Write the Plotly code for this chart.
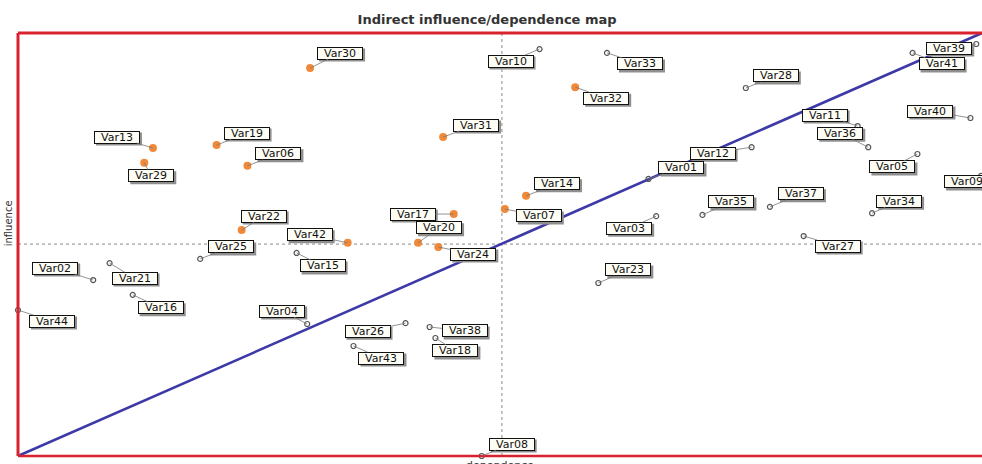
import plotly.graph_objects as go

# ---------------- data ----------------
variables = ["Var30", "Var13", "Var29", "Var19", "Var06", "Var22", "Var42", "Var31",
             "Var32", "Var14", "Var07", "Var17", "Var20", "Var24",
             "Var10", "Var33", "Var39", "Var41", "Var28", "Var11", "Var36", "Var40",
             "Var12", "Var01", "Var05", "Var09", "Var35", "Var37", "Var34", "Var03",
             "Var27", "Var25", "Var15", "Var02", "Var21", "Var16", "Var44", "Var04",
             "Var23", "Var26", "Var38", "Var18", "Var43", "Var08"]
dependence = [30.3, 14.0, 13.1, 20.6, 23.8, 23.2, 34.2, 44.1,
              57.8, 52.7, 50.5, 45.2, 41.5, 43.6,
              54.1, 61.1, 99.4, 92.8, 75.5, 87.1, 88.2, 98.8,
              76.1, 65.4, 93.3, 99.9, 71.0, 78.0, 88.6, 66.2,
              81.5, 18.9, 28.9, 7.8, 9.5, 11.9, 0.0, 30.0,
              60.2, 40.2, 42.7, 43.3, 34.8, 48.1]
influence = [91.7, 72.8, 69.3, 73.5, 68.6, 53.4, 50.4, 75.4,
             87.2, 61.5, 58.4, 57.2, 50.4, 49.4,
             96.2, 95.3, 97.4, 95.3, 87.0, 78.0, 73.0, 79.9,
             73.0, 65.5, 71.4, 66.2, 57.0, 58.9, 57.4, 56.7,
             52.0, 46.6, 48.0, 41.6, 45.6, 38.1, 34.5, 31.2,
             40.9, 31.4, 30.5, 27.9, 26.0, 0.0]
highlighted = ["Var30", "Var13", "Var29", "Var19", "Var06", "Var22", "Var42", "Var31",
               "Var32", "Var14", "Var07", "Var17", "Var20", "Var24"]
mean_dependence = 50.2
mean_influence = 50.1

# label placement (pixel offsets of the label box centre from its point)
label_offsets = {
    "Var30": (30, -15), "Var13": (-36, -11), "Var29": (7, 13), "Var19": (30, -12),
    "Var06": (31, -12), "Var22": (22, -14), "Var42": (-38, -8), "Var31": (33, -12),
    "Var32": (31, 11), "Var14": (31, -12), "Var07": (34, 7), "Var17": (-41, 0),
    "Var20": (21, -15), "Var24": (35, 7), "Var10": (-29, 12), "Var33": (33, 11),
    "Var39": (-27, 4), "Var41": (29, 11), "Var28": (30, -12), "Var11": (-33, -11),
    "Var36": (-28, -14), "Var40": (-40, -7), "Var12": (-39, 6), "Var01": (33, -11),
    "Var05": (-25, 13), "Var09": (-14, 6), "Var35": (29, -13), "Var37": (31, -13),
    "Var34": (27, -12), "Var03": (-27, 12), "Var27": (34, 10), "Var25": (31, -12),
    "Var15": (26, 13), "Var02": (-38, -12), "Var21": (25, 15), "Var16": (28, 13),
    "Var44": (34, 11), "Var04": (-25, -13), "Var23": (30, -13), "Var26": (-38, 8),
    "Var38": (35, 4), "Var18": (20, 13), "Var43": (28, 12), "Var08": (30, -12),
}

# ---------------- figure ----------------
hx = [d for v, d in zip(variables, dependence) if v in highlighted]
hy = [i for v, i in zip(variables, influence) if v in highlighted]
ox = [d for v, d in zip(variables, dependence) if v not in highlighted]
oy = [i for v, i in zip(variables, influence) if v not in highlighted]

fig = go.Figure()
fig.add_trace(go.Scatter(x=[0, 100], y=[0, 100], mode="lines",
                         line=dict(color="#3d3aa8", width=2.6), hoverinfo="skip",
                         cliponaxis=False))
fig.add_trace(go.Scatter(x=ox, y=oy, mode="markers", cliponaxis=False,
                         marker=dict(symbol="circle-open", size=5, color="#555555",
                                     line=dict(color="#555555", width=1.2))))
fig.add_trace(go.Scatter(x=hx, y=hy, mode="markers", cliponaxis=False,
                         marker=dict(symbol="circle", size=8, color="#f08a3a",
                                     line=dict(width=0))))

shapes = [
    dict(type="line", xref="x", yref="paper", x0=mean_dependence, x1=mean_dependence,
         y0=0, y1=1, line=dict(color="#8a8a8a", width=1, dash="dot"), layer="below"),
    dict(type="line", xref="paper", yref="y", x0=0, x1=1, y0=mean_influence,
         y1=mean_influence, line=dict(color="#8a8a8a", width=1, dash="dot"), layer="below"),
    dict(type="line", xref="paper", yref="paper", x0=0, x1=0, y0=0, y1=1,
         line=dict(color="#d8232e", width=3)),
    dict(type="line", xref="paper", yref="paper", x0=0, x1=1, y0=1, y1=1,
         line=dict(color="#d8232e", width=3)),
    dict(type="line", xref="paper", yref="paper", x0=0, x1=1, y0=0, y1=0,
         line=dict(color="#d8232e", width=2.5)),
]

LW, LH, FS = 44, 11, 11
annotations = []
for v, d, i in zip(variables, dependence, influence):
    dx, dy = label_offsets[v]
    # drop shadow of the label box (pixel-sized rectangle anchored at the point)
    shapes.append(dict(type="rect", xref="x", yref="y", xsizemode="pixel",
                       ysizemode="pixel", xanchor=d, yanchor=i,
                       x0=dx - LW / 2 - 1 + 2, x1=dx + LW / 2 + 1 + 2,
                       y0=-dy - LH / 2 - 1 - 2, y1=-dy + LH / 2 + 1 - 2,
                       fillcolor="#8f8f8f", line=dict(width=0), layer="above"))
    annotations.append(dict(x=d, y=i, xref="x", yref="y", text=v, ax=dx, ay=dy,
                            showarrow=True, arrowhead=0, arrowcolor="#777777",
                            arrowwidth=0.8, bgcolor="#fdfdf6", bordercolor="#111111",
                            borderwidth=1, borderpad=0, width=LW, height=LH,
                            font=dict(family="DejaVu Sans", size=FS, color="#111111")))

annotations.append(dict(text="dependence", xref="paper", yref="paper", x=0.5, y=0,
                        yshift=-9, showarrow=False, yanchor="middle",
                        font=dict(family="DejaVu Sans", size=11, color="#333333")))
annotations.append(dict(text="influence", xref="paper", yref="paper", x=0, y=0.55,
                        xshift=-10, showarrow=False, textangle=-90, xanchor="center",
                        font=dict(family="DejaVu Sans", size=10, color="#333333")))

fig.update_layout(
    width=982, height=464,
    margin=dict(l=18, r=0, t=33, b=8, autoexpand=False),
    paper_bgcolor="white", plot_bgcolor="white",
    showlegend=False,
    title=dict(text="<b>Indirect influence/dependence map</b>", x=0.496, xanchor="center",
               y=1 - 19 / 464, yanchor="middle",
               font=dict(family="DejaVu Sans", size=13, color="#333333")),
    xaxis=dict(range=[0, 100], showgrid=False, zeroline=False, showticklabels=False,
               ticks="", showline=False, fixedrange=True),
    yaxis=dict(range=[0, 100], showgrid=False, zeroline=False, showticklabels=False,
               ticks="", showline=False, fixedrange=True),
    shapes=shapes,
    annotations=annotations,
)

fig.write_html("out.html", config={"displayModeBar": False},
               post_script="document.body.style.margin='0px';"
                           "document.body.style.overflow='hidden';")
